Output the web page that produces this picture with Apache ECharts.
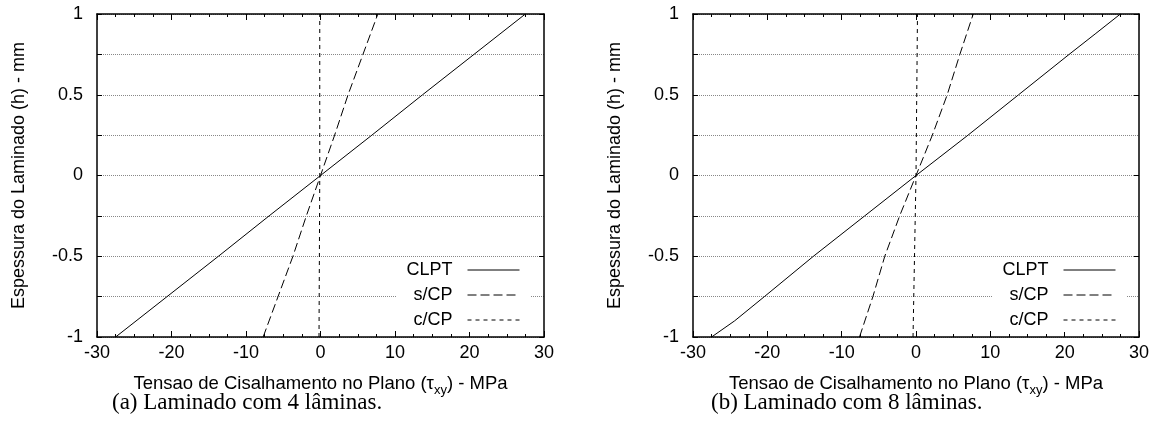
<!DOCTYPE html>
<html><head><meta charset="utf-8">
<script src="https://cdn.jsdelivr.net/npm/echarts@6/dist/echarts.min.js"></script>
<style>html,body{margin:0;padding:0;background:#fff}#c{width:1161px;height:425px}</style>
</head><body><div id="c"></div>
<script>
// ---- data ----
const seriesNames = ['CLPT', 's/CP', 'c/CP'];
const captions = ['(a) Laminado com 4 lâminas.', '(b) Laminado com 8 lâminas.'];
const xTitle = ['Tensao de Cisalhamento no Plano (τ', 'xy', ') - MPa'];
const yTitle = 'Espessura do Laminado (h) - mm';

// (a) 4 laminas
const clpt4_h = [-1, -0.75, -0.5, -0.25, 0, 0.25, 0.5, 0.75, 1];
const clpt4_x = [-27.5, -20.6, -13.7, -6.9, 0, 6.9, 13.7, 20.6, 27.5];
const scp4_h  = [-1, -0.75, -0.5, -0.25, 0, 0.25, 0.5, 0.75, 1];
const scp4_x  = [-7.7, -5.7, -3.7, -1.9, 0, 1.9, 3.7, 5.7, 7.7];
const ccp4_h  = [-1, 0, 1];
const ccp4_x  = [-0.2, -0.1, -0.1];

// (b) 8 laminas
const clpt8_h = [-1, -0.9, -0.75, -0.5, -0.25, 0, 0.25, 0.5, 0.75, 0.88, 1];
const clpt8_x = [-27.5, -24.4, -20.4, -13.8, -6.9, 0, 7.0, 13.8, 20.6, 24.2, 27.5];
const scp8_h  = [-1, -0.75, -0.5, -0.25, 0, 0.25, 0.5, 0.75, 1];
const scp8_x  = [-7.6, -5.8, -4.2, -2.2, 0, 2.2, 4.2, 5.9, 7.7];
const ccp8_h  = [-1, 0, 1];
const ccp8_x  = [-0.4, 0, 0.2];

// ---- chart ----
const pair = (xs, hs) => xs.map((x, i) => [x, hs[i]]);
const sansFont = '"Liberation Sans", Arial, sans-serif';
const serifFont = '"Liberation Serif", "DejaVu Serif", serif';
const grids = [
  {left: 97, right: 617, top: 14, bottom: 88},
  {left: 693, right: 22, top: 14, bottom: 88}
];
const axLine = {onZero: false, lineStyle: {color: '#000', width: 1.5}};
const xAxes = [], yAxes = [];
grids.forEach((g, gi) => {
  xAxes.push({
    type: 'value', gridIndex: gi, min: -30, max: 30, interval: 10, position: 'bottom',
    axisLine: axLine,
    axisTick: {inside: true, length: 6, lineStyle: {color: '#000'}},
    minorTick: {show: true, splitNumber: 4, length: 3, lineStyle: {color: '#000'}},
    splitLine: {show: false},
    axisLabel: {color: '#000', fontSize: 18, fontFamily: sansFont, margin: 7},
    name: '{t|' + xTitle[0] + '}{s|' + xTitle[1] + '}{t|' + xTitle[2] + '}',
    nameLocation: 'middle', nameGap: 34,
    nameTextStyle: {
      rich: {
        t: {fontSize: 18.5, fontFamily: sansFont, color: '#000', lineHeight: 26},
        s: {fontSize: 13, fontFamily: sansFont, color: '#000', lineHeight: 13, verticalAlign: 'bottom'}
      }
    }
  });
  xAxes.push({
    type: 'value', gridIndex: gi, min: -30, max: 30, interval: 10, position: 'top',
    axisLine: axLine,
    axisTick: {inside: true, length: 6, lineStyle: {color: '#000'}},
    minorTick: {show: true, splitNumber: 4, length: 3, lineStyle: {color: '#000'}},
    splitLine: {show: false}, axisLabel: {show: false}
  });
  yAxes.push({
    type: 'value', gridIndex: gi, min: -1, max: 1, interval: 0.25, position: 'left',
    axisLine: axLine,
    axisTick: {inside: true, length: 5, lineStyle: {color: '#000'}},
    splitLine: {show: true, lineStyle: {color: '#888', type: 'dotted', width: 1}},
    axisLabel: {color: '#000', fontSize: 18, fontFamily: sansFont, margin: 14,
      formatter: v => (Math.abs(v * 2 - Math.round(v * 2)) < 1e-9) ? String(v) : ''},
    name: yTitle, nameLocation: 'middle', nameGap: 69, nameRotate: 90,
    nameTextStyle: {fontSize: 18, fontFamily: sansFont, color: '#000'}
  });
  yAxes.push({
    type: 'value', gridIndex: gi, min: -1, max: 1, interval: 0.5, position: 'right',
    axisLine: axLine,
    axisTick: {inside: true, length: 5, lineStyle: {color: '#000'}},
    splitLine: {show: false}, axisLabel: {show: false}
  });
});

const dashes = [null, [9, 4], [4, 4]];
const mk = (name, gi, data, k) => ({
  name, type: 'line', xAxisIndex: gi * 2, yAxisIndex: gi * 2, data,
  symbol: 'none', silent: true, animation: false,
  lineStyle: {color: '#000', width: 1, type: dashes[k] || 'solid'},
  itemStyle: {color: '#000', opacity: 0}
});
const series = [
  mk('CLPT', 0, pair(clpt4_x, clpt4_h), 0),
  mk('s/CP', 0, pair(scp4_x, scp4_h), 1),
  mk('c/CP', 0, pair(ccp4_x, ccp4_h), 2),
  mk('CLPT', 1, pair(clpt8_x, clpt8_h), 0),
  mk('s/CP', 1, pair(scp8_x, scp8_h), 1),
  mk('c/CP', 1, pair(ccp8_x, ccp8_h), 2)
];

const legendBase = {
  data: seriesNames, orient: 'vertical', align: 'right', top: 258,
  itemWidth: 52, itemHeight: 14, itemGap: 7, backgroundColor: '#fff',
  padding: [3, 11, 3, 10], selectedMode: false,
  itemStyle: {opacity: 0},
  lineStyle: {width: 1},
  textStyle: {fontSize: 18, fontFamily: sansFont, color: '#000', padding: [0, 10, 0, 0]}
};

const chart = echarts.init(document.getElementById('c'), null, {renderer: 'canvas'});
chart.setOption({
  backgroundColor: '#fff',
  animation: false,
  grid: grids,
  xAxis: xAxes,
  yAxis: yAxes,
  legend: [
    Object.assign({}, legendBase, {right: 630}),
    Object.assign({}, legendBase, {right: 34})
  ],
  series,
  graphic: [
    {type: 'text', left: 112, top: 391, style: {text: captions[0], font: '23px ' + serifFont, fill: '#000'}},
    {type: 'text', left: 711, top: 391, style: {text: captions[1], font: '23px ' + serifFont, fill: '#000'}}
  ]
});
</script>
</body></html>
